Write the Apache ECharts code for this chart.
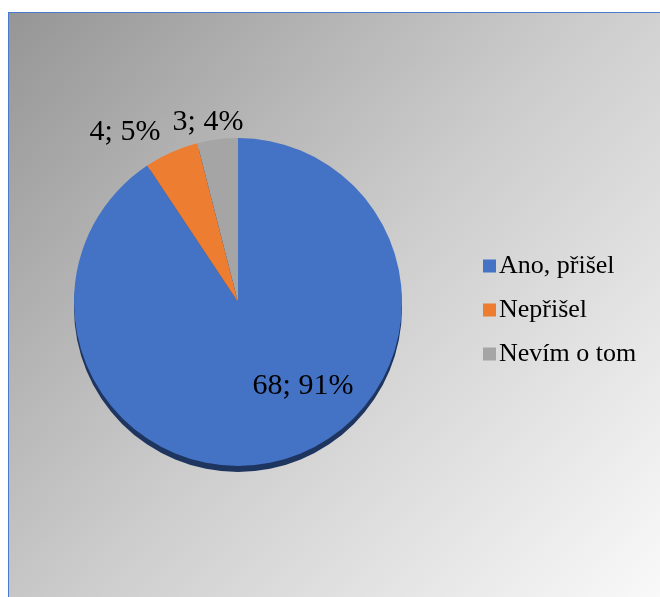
<!DOCTYPE html>
<html>
<head>
<meta charset="utf-8">
<script src="https://cdn.jsdelivr.net/npm/echarts@6/dist/echarts.min.js"></script>
<style>
  html, body { margin: 0; padding: 0; background: #ffffff; width: 660px; height: 597px; overflow: hidden; }
  #chart {
    position: absolute; left: 8px; top: 12px;
    width: 660px; height: 590px;
    border-top: 1px solid #4a7acb;
    border-left: 1px solid #4a7acb;
  }
</style>
</head>
<body>
<div id="chart"></div>
<script>
// Survey answers
const categories = ['Ano, přišel', 'Nepřišel', 'Nevím o tom'];
const counts = [68, 4, 3];
const colors = ['#4472C4', '#ED7D31', '#A5A5A5'];

// Pie geometry (px, inside the chart box)
const pieCenter = [229, 289];
const pieRadius = 164;
// Label anchor offsets from the pie centre, one per slice
const labelOffsets = [[65, 84], [-113, -170], [-30, -180]];

const chart = echarts.init(document.getElementById('chart'), null, { renderer: 'canvas' });

const pieData = categories.map((name, i) => ({
  name: name,
  value: counts[i],
  itemStyle: { color: colors[i] }
}));

chart.setOption({
  backgroundColor: new echarts.graphic.LinearGradient(0, 0, 1, 1, [
    { offset: 0, color: '#969696' },
    { offset: 0.5, color: '#cdcdcd' },
    { offset: 1, color: '#fafafa' }
  ]),
  animation: false,
  legend: {
    orient: 'vertical',
    left: 469,
    top: 233,
    itemWidth: 13,
    itemHeight: 13,
    itemGap: 14,
    icon: 'rect',
    data: categories,
    textStyle: {
      fontFamily: 'Liberation Serif',
      fontSize: 26,
      color: '#000000',
      lineHeight: 30,
      padding: [0, 0, 0, -2]
    }
  },
  series: [
    {
      // dark rim under the pie giving it depth
      type: 'pie',
      silent: true,
      center: [pieCenter[0], pieCenter[1] + 6],
      radius: pieRadius,
      startAngle: 90,
      clockwise: true,
      data: counts.map(v => ({ value: v })),
      itemStyle: { color: '#1e3560', borderWidth: 0 },
      label: { show: false },
      labelLine: { show: false },
      legendHoverLink: false,
      z: 1
    },
    {
      type: 'pie',
      center: pieCenter,
      radius: pieRadius,
      startAngle: 90,
      clockwise: true,
      percentPrecision: 0,
      data: pieData,
      itemStyle: { borderWidth: 0 },
      label: {
        show: true,
        position: 'inside',
        formatter: '{c}; {d}%',
        fontFamily: 'Liberation Serif',
        fontSize: 30,
        color: '#000000'
      },
      labelLine: { show: false },
      labelLayout: function (params) {
        const off = labelOffsets[params.dataIndex];
        return {
          x: pieCenter[0] + off[0],
          y: pieCenter[1] + off[1],
          align: 'center',
          verticalAlign: 'middle'
        };
      },
      z: 2
    }
  ]
});
</script>
</body>
</html>
